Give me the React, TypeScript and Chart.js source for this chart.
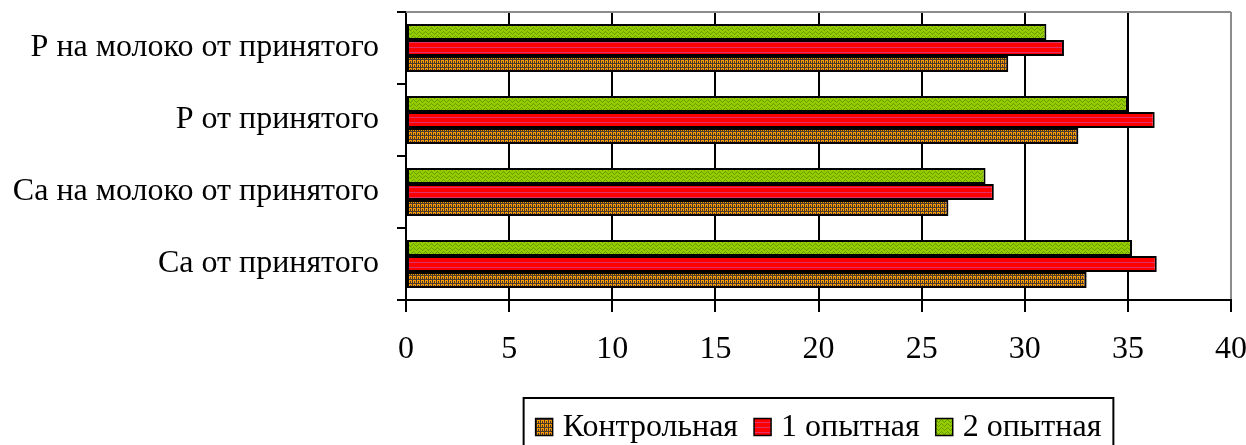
import React, { useEffect, useRef } from "react";
import { Chart, registerables } from "chart.js";

Chart.register(...registerables);

const categories = [
  "Са от принятого",
  "Са на молоко от принятого",
  "Р от принятого",
  "Р на молоко от принятого",
];
const seriesNames = ["Контрольная", "1 опытная", "2 опытная"];
const control = [33.0, 26.3, 32.6, 29.2];
const exp1 = [36.4, 28.5, 36.3, 31.9];
const exp2 = [35.2, 28.1, 35.0, 31.05];
const xTicks = [0, 5, 10, 15, 20, 25, 30, 35, 40];

const FONT = '"Liberation Serif", "Times New Roman", serif';
const FSIZE = 32;

function makePattern(kind: string): CanvasPattern | string {
  const c = document.createElement("canvas");
  const ctx = c.getContext("2d");
  if (!ctx) return "#888";
  if (kind === "orange") {
    c.width = 4; c.height = 4;
    ctx.fillStyle = "#ff9900"; ctx.fillRect(0, 0, 4, 4);
    ctx.fillStyle = "#4a3a2a";
    ctx.fillRect(0, 0, 1, 4);
    ctx.fillRect(2, 1, 1, 2);
    ctx.fillRect(0, 3, 4, 1);
  } else if (kind === "red") {
    c.width = 4; c.height = 5;
    ctx.fillStyle = "#ff0000"; ctx.fillRect(0, 0, 4, 5);
    ctx.fillStyle = "#e0306a"; ctx.fillRect(0, 2, 4, 1);
  } else {
    c.width = 6; c.height = 4;
    ctx.fillStyle = "#99cc00"; ctx.fillRect(0, 0, 6, 4);
    ctx.fillStyle = "#5f9e00";
    ctx.fillRect(0, 0, 1, 1); ctx.fillRect(1, 1, 1, 1); ctx.fillRect(2, 2, 1, 1);
    ctx.fillRect(3, 1, 1, 1); ctx.fillRect(4, 0, 1, 1); ctx.fillRect(5, 3, 1, 1);
  }
  const p = ctx.createPattern(c, "repeat");
  return p || "#888";
}

export default function App() {
  const ref = useRef<HTMLCanvasElement | null>(null);
  useEffect(() => {
    if (!ref.current) return;
    const fills = [makePattern("orange"), makePattern("red"), makePattern("green")];
    const frame = {
      id: "frame",
      beforeDatasetsDraw(chart: any) {
        const { ctx, chartArea } = chart;
        ctx.save();
        ctx.strokeStyle = "#8c8c8c";
        ctx.lineWidth = 2;
        ctx.beginPath();
        ctx.moveTo(chartArea.left, chartArea.top);
        ctx.lineTo(chartArea.right, chartArea.top);
        ctx.stroke();
        ctx.restore();
      },
    };
    const legendBox = {
      id: "legendBox",
      afterDraw(chart: any) {
        const { ctx, chartArea } = chart;
        ctx.save();
        ctx.font = `${FSIZE}px ${FONT}`;
        const box = 17, gapBox = 10, gapItem = 16, padX = 12;
        const widths = seriesNames.map((s) => ctx.measureText(s).width);
        let total = padX * 2;
        widths.forEach((w, i) => {
          total += box + gapBox + w + (i < widths.length - 1 ? gapItem : 0);
        });
        const cx = (chartArea.left + chartArea.right) / 2;
        const left = cx - total / 2;
        const top = chartArea.bottom + 98;
        const cy = chartArea.bottom + 127;
        ctx.strokeStyle = "#000";
        ctx.lineWidth = 2;
        ctx.strokeRect(left, top, total, 70);
        let x = left + padX;
        ctx.textBaseline = "middle";
        seriesNames.forEach((s, i) => {
          ctx.fillStyle = fills[i] as any;
          ctx.fillRect(x, cy - box / 2, box, box);
          ctx.strokeStyle = "#000";
          ctx.lineWidth = 1.5;
          ctx.strokeRect(x, cy - box / 2, box, box);
          x += box + gapBox;
          ctx.fillStyle = "#000";
          ctx.fillText(s, x, cy + 1);
          x += widths[i] + gapItem;
        });
        ctx.restore();
      },
    };
    const mk = (label: string, data: number[], i: number) => ({
      label,
      data,
      backgroundColor: fills[i],
      borderColor: "#000",
      borderWidth: 2,
      borderSkipped: false,
      categoryPercentage: 0.667,
      barPercentage: 1,
    });
    const chart = new Chart(ref.current, {
      type: "bar",
      data: {
        labels: categories,
        datasets: [mk(seriesNames[2], exp2, 2), mk(seriesNames[1], exp1, 1), mk(seriesNames[0], control, 0)],
      },
      options: {
        indexAxis: "y",
        animation: false,
        responsive: false,
        maintainAspectRatio: false,
        layout: { padding: { top: 12, right: 15, left: 0, bottom: 85 } },
        plugins: { legend: { display: false }, tooltip: { enabled: false } },
        scales: {
          x: {
            min: 0,
            max: 40,
            afterBuildTicks: (s: any) => { s.ticks = xTicks.map((v) => ({ value: v })); },
            afterFit: (s: any) => { s.height = 60; s.paddingLeft = 0; s.paddingRight = 0; },
            border: { color: "#000", width: 2 },
            grid: {
              color: (c: any) => (c.tick && c.tick.value === 40 ? "#8c8c8c" : "#000"),
              tickColor: "#000",
              lineWidth: 2,
              tickLength: 12,
            },
            ticks: { color: "#000", font: { family: FONT, size: FSIZE }, padding: 18, maxRotation: 0 },
          },
          y: {
            reverse: true,
            afterFit: (s: any) => { s.width = 406; s.paddingTop = 0; s.paddingBottom = 0; },
            border: { color: "#000", width: 2 },
            grid: { offset: true, drawOnChartArea: false, color: "#000", lineWidth: 2, tickLength: 9 },
            ticks: { color: "#000", font: { family: FONT, size: FSIZE }, padding: 18 },
          },
        },
      },
      plugins: [frame, legendBox],
    } as any);
    return () => chart.destroy();
  }, []);
  return (
    <div style={{ position: "absolute", left: 0, top: 0, width: 1246, height: 445, background: "#fff" }}>
      <canvas ref={ref} width={1246} height={445} style={{ width: 1246, height: 445 }} />
    </div>
  );
}
